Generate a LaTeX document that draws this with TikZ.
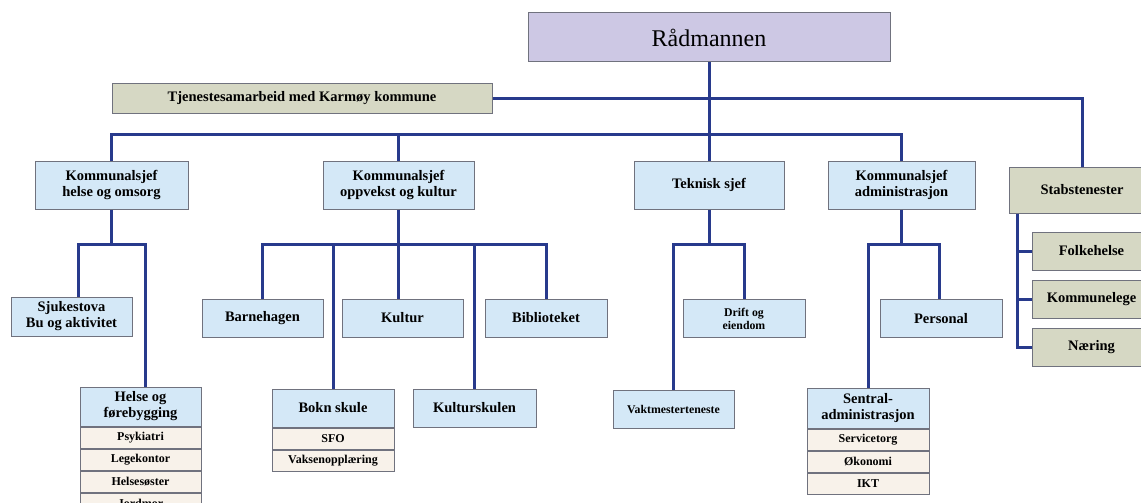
\documentclass[tikz,border=0pt]{standalone}
\usepackage{fontspec}
\setmainfont{Liberation Serif}
\usepackage{tikz}
\usetikzlibrary{positioning}
\definecolor{linjeblaa}{RGB}{40,58,140}
\definecolor{kant}{RGB}{112,114,126}
\definecolor{einingblaa}{RGB}{212,232,247}
\definecolor{stabgraa}{RGB}{214,216,196}
\definecolor{toppfiolett}{RGB}{205,200,228}
\definecolor{radbeige}{RGB}{248,242,234}
\newcommand{\litentekst}{\bfseries\fontsize{11.8}{13}\selectfont}

\tikzset{
  boks/.style={draw=kant, line width=1pt, fill=einingblaa, align=center,
    font=\bfseries\fontsize{14.5}{16}\selectfont, inner sep=1pt,
    minimum width=121pt, minimum height=38pt},
  leiar/.style={boks, minimum height=48pt},
  stabboks/.style={boks, fill=stabgraa},
  toppboks/.style={draw=kant, line width=1pt, fill=toppfiolett,
    font=\fontsize{24}{27}\selectfont, minimum width=362pt, minimum height=49pt},
  rad/.style={draw=kant, line width=1pt, fill=radbeige, inner sep=0pt,
    font=\bfseries\fontsize{12}{13}\selectfont,
    minimum width=121pt, minimum height=21pt},
  linje/.style={draw=linjeblaa, line width=3pt},
}

\begin{document}
\begin{tikzpicture}[x=1pt,y=-1pt]
  \path[use as bounding box, fill=white] (0,0) rectangle (1141,503);
  \clip (0,0) rectangle (1141,503);

  % toppleiing
  \node[toppboks] (raadmann) at (709,37.5) {Rådmannen};
  \node[stabboks, minimum width=380pt, minimum height=30pt] (samarbeid) at (302,98.5) {Tjenestesamarbeid med Karmøy kommune};

  % kommunalsjefar
  \node[leiar, minimum width=153pt] (helseomsorg) at (111.5,185) {Kommunalsjef\\helse og omsorg};
  \node[leiar, minimum width=151pt] (oppvekst) at (398.5,185) {Kommunalsjef\\oppvekst og kultur};
  \node[leiar, minimum width=150pt] (teknisk) at (709,185) {Teknisk sjef};
  \node[leiar, minimum width=147pt] (admin) at (901.5,185) {Kommunalsjef\\administrasjon};
  \node[stabboks, minimum width=146pt, minimum height=46pt] (stab) at (1082,190) {Stabstenester};

  % stab
  \node[stabboks, minimum width=119pt] (folkehelse) at (1091.5,251) {Folkehelse};
  \node[stabboks, minimum width=119pt] (kommunelege) at (1091.5,299) {Kommunelege};
  \node[stabboks, minimum width=119pt] (naering) at (1091.5,347.5) {Næring};

  % nivaa 2
  \node[boks, minimum height=39pt] (sjukestova) at (71.5,316.5) {Sjukestova\\Bu og aktivitet};
  \node[boks] (barnehagen) at (262.5,318) {Barnehagen};
  \node[boks] (kultur) at (402.5,318) {Kultur};
  \node[boks, minimum width=122pt] (biblioteket) at (546,318) {Biblioteket};
  \node[boks, minimum width=122pt, font=\litentekst] (drift) at (744,318.5) {Drift og\\eiendom};
  \node[boks, minimum width=122pt] (personal) at (941,318.5) {Personal};

  % nivaa 3
  \node[boks, minimum height=39pt] (helse) at (140.5,406.5) {Helse og\\førebygging};
  \node[rad, below=0cm of helse] (psykiatri) {Psykiatri};
  \node[rad, below=0cm of psykiatri] (legekontor) {Legekontor};
  \node[rad, below=0cm of legekontor] (helsesoster) {Helsesøster};
  \node[rad, below=0cm of helsesoster] (jordmor) {Jordmor};

  \node[boks, minimum width=122pt] (bokn) at (333,408) {Bokn skule};
  \node[rad, minimum width=122pt, below=0cm of bokn] (sfo) {SFO};
  \node[rad, minimum width=122pt, below=0cm of sfo] (vaksen) {Vaksenopplæring};

  \node[boks, minimum width=123pt] (kulturskulen) at (474.5,408) {Kulturskulen};
  \node[boks, font=\litentekst] (vaktmeister) at (673.5,409) {Vaktmesterteneste};

  \node[boks, minimum width=122pt, minimum height=40pt] (sentral) at (868,408) {Sentral-\\administrasjon};
  \node[rad, minimum width=122pt, below=0cm of sentral] (servicetorg) {Servicetorg};
  \node[rad, minimum width=122pt, below=0cm of servicetorg] (okonomi) {Økonomi};
  \node[rad, minimum width=122pt, below=0cm of okonomi] (ikt) {IKT};

  % linjer
  \coordinate (leiarbuss) at (709,134);
  \coordinate (helsebuss) at (111.5,244);
  \coordinate (oppvekstbuss) at (398.5,244);
  \coordinate (tekniskbuss) at (709,244);
  \coordinate (adminbuss) at (901.5,244);

  \draw[linje] (raadmann.south) -- (teknisk.north);
  \draw[linje] (samarbeid.east) -| (stab.north);
  \draw[linje] (helseomsorg.north) |- (leiarbuss) -| (admin.north);
  \draw[linje] (oppvekst.north) -- (oppvekst.north |- leiarbuss);

  \draw[linje] (helseomsorg.south) -- (helsebuss);
  \draw[linje] ([xshift=6.5pt]sjukestova.north) |- (helsebuss) -| ([xshift=4.5pt]helse.north);

  \draw[linje] (oppvekst.south) -- (oppvekst.south |- kultur.north);
  \draw[linje] (barnehagen.north) |- (oppvekstbuss) -| (biblioteket.north);
  \draw[linje] (bokn.north) -- (bokn.north |- oppvekstbuss);
  \draw[linje] (kulturskulen.north) -- (kulturskulen.north |- oppvekstbuss);

  \draw[linje] (teknisk.south) -- (tekniskbuss);
  \draw[linje] (vaktmeister.north) |- (tekniskbuss) -| (drift.north);

  \draw[linje] (admin.south) -- (adminbuss);
  \draw[linje] (sentral.north) |- (adminbuss) -| ([xshift=-2pt]personal.north);

  \draw[linje] ([xshift=9pt]stab.south west) |- (naering.west);
  \draw[linje] (folkehelse.west) -- ++(-14,0);
  \draw[linje] (kommunelege.west) -- ++(-14,0);
\end{tikzpicture}
\end{document}
